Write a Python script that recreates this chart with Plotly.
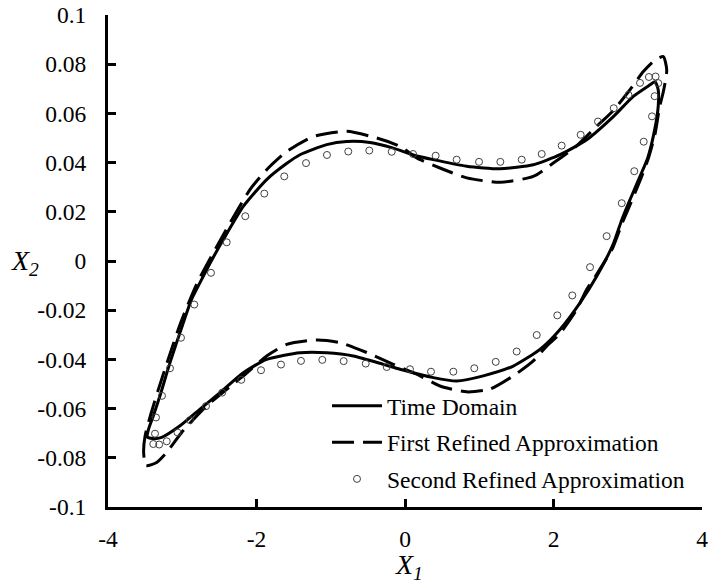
import plotly.graph_objects as go

# ---- data ----
time_x = [-3.47, -3.455, -3.39, -3.30, -3.165, -2.99, -2.88, -2.761, -2.60, -2.447, -2.178,
          -1.863, -1.60, -1.414, -1.055, -0.785, -0.471, -0.158, 0.10, 0.381, 0.831, 1.279,
          1.728, 2.088, 2.447, 2.806, 3.075, 3.30, 3.367, 3.41, 3.41, 3.36, 3.27, 3.165,
          3.03, 2.92, 2.806, 2.582, 2.357, 2.088, 1.818, 1.459, 1.055, 0.696, 0.381, -0.067,
          -0.292, -0.696, -1.055, -1.414, -1.863, -2.178, -2.492, -2.761, -3.03, -3.277,
          -3.40, -3.47]
time_y = [-0.0715, -0.0684, -0.063, -0.0548, -0.0413, -0.0255, -0.016, -0.0088, 0.0005,
          0.0087, 0.0222, 0.0331, 0.0395, 0.0432, 0.0473, 0.0486, 0.0482, 0.0459, 0.0432,
          0.0412, 0.0385, 0.0375, 0.0391, 0.0432, 0.0493, 0.0587, 0.0669, 0.0716, 0.0729,
          0.0696, 0.0628, 0.053, 0.042, 0.0344, 0.0249, 0.0168, 0.007, -0.0062, -0.017,
          -0.0278, -0.0359, -0.0427, -0.0467, -0.0488, -0.0474, -0.044, -0.042, -0.0386,
          -0.0373, -0.0373, -0.040, -0.0454, -0.0535, -0.0602, -0.067, -0.0717, -0.0722,
          -0.0715]

first_x = [-3.49, -3.52, -3.50, -3.43, -3.33, -3.19, -3.02, -2.80, -2.45, -2.088, -1.863,
           -1.593, -1.235, -0.785, -0.381, -0.067, 0.158, 0.471, 0.831, 1.279, 1.728, 1.997,
           2.30, 2.58, 2.80, 3.03, 3.21, 3.36, 3.479, 3.525, 3.48, 3.43, 3.37, 3.28, 3.17,
           3.04, 2.92, 2.80, 2.58, 2.447, 2.312, 2.078, 1.908, 1.728, 1.459, 1.145, 0.831,
           0.471, 0.158, -0.158, -0.516, -0.875, -1.19, -1.593, -1.863, -2.178, -2.671,
           -3.008, -3.209, -3.345, -3.49]
first_y = [-0.0832, -0.0778, -0.071, -0.063, -0.053, -0.040, -0.025, -0.009, 0.0105, 0.029,
           0.0371, 0.0445, 0.0506, 0.0527, 0.050, 0.0466, 0.0419, 0.0378, 0.0338, 0.032,
           0.0344, 0.0398, 0.0465, 0.0547, 0.061, 0.0696, 0.077, 0.0815, 0.0831, 0.0777,
           0.0689, 0.0628, 0.052, 0.042, 0.033, 0.0235, 0.015, 0.0055, -0.0055, -0.0116,
           -0.0197, -0.0298, -0.0346, -0.0406, -0.0467, -0.0521, -0.0532, -0.0508, -0.046,
           -0.042, -0.0372, -0.0332, -0.0321, -0.0339, -0.0386, -0.0467, -0.0589, -0.0697,
           -0.0778, -0.0819, -0.0832]

second_x = [-3.39, -3.367, -3.354, -3.273, -3.165, -3.017, -2.838, -2.613, -2.401, -2.151,
            -1.895, -1.626, -1.333, -1.051, -0.764, -0.481, -0.179, 0.108, 0.413, 0.696,
            0.997, 1.284, 1.572, 1.841, 2.110, 2.366, 2.599, 2.811, 3.010, 3.165, 3.285,
            3.375, 3.411, 3.362, 3.327, 3.215, 3.088, 2.919, 2.716, 2.492, 2.253, 2.051,
            1.774, 1.504, 1.222, 0.933, 0.651, 0.350, 0.067, -0.246, -0.529, -0.826, -1.114,
            -1.401, -1.670, -1.939, -2.205, -2.462, -2.680, -2.896, -3.064, -3.209, -3.311]
second_y = [-0.0744, -0.0702, -0.0636, -0.0548, -0.0436, -0.0312, -0.0177, -0.0048, 0.0076,
            0.0182, 0.0274, 0.0344, 0.0398, 0.0431, 0.0445, 0.0449, 0.0444, 0.0435, 0.0428,
            0.0412, 0.0403, 0.0403, 0.0412, 0.0435, 0.0469, 0.0513, 0.0567, 0.0621, 0.0675,
            0.0724, 0.0748, 0.0750, 0.0723, 0.0670, 0.0588, 0.0485, 0.0365, 0.0235, 0.0101,
            -0.0025, -0.0140, -0.0221, -0.0301, -0.0368, -0.0410, -0.0436, -0.0450, -0.0450,
            -0.0440, -0.0431, -0.0417, -0.0407, -0.0402, -0.0406, -0.0421, -0.0444, -0.0483,
            -0.0535, -0.0590, -0.0647, -0.0697, -0.0733, -0.0746]

x_ticks = [-4, -2, 0, 2, 4]
y_ticks = [-0.1, -0.08, -0.06, -0.04, -0.02, 0, 0.02, 0.04, 0.06, 0.08, 0.1]
y_tick_text = ["-0.1", "-0.08", "-0.06", "-0.04", "-0.02", "0", "0.02", "0.04", "0.06", "0.08", "0.1"]
x_tick_text = ["-4", "-2", "0", "2", "4"]

FONT = "Liberation Serif, Times New Roman, serif"
FS = 23.5

fig = go.Figure()
fig.add_trace(go.Scatter(x=time_x, y=time_y, mode="lines", name="Time Domain",
                         legendgroup="a",
                         line=dict(color="black", width=3, shape="spline", smoothing=0.6)))
fig.add_trace(go.Scatter(x=first_x, y=first_y, mode="lines", name="First Refined Approximation",
                         legendgroup="b",
                         line=dict(color="black", width=3, dash="22px,9px", shape="spline",
                                   smoothing=0.6)))
fig.add_trace(go.Scatter(x=second_x, y=second_y, mode="markers", name="Second Refined Approximation",
                         legendgroup="c",
                         marker=dict(symbol="circle-open", size=7, color="#404040",
                                     line=dict(width=1, color="#404040"))))

# the page body margin is removed below, so figure pixels == window pixels
W, H = 708, 585
PX0, PX1, PY0, PY1 = 108, 702, 15, 507        # plot area in pixels
L, R, T, B = PX0, W - PX1, PY0, H - PY1
pw, ph = PX1 - PX0, PY1 - PY0

def px_to_paper(px, py):
    return (px - PX0) / pw, (PY1 - py) / ph

lx, _ = px_to_paper(327, 0)
_, ly = px_to_paper(0, 384)

fig.update_layout(
    width=W, height=H,
    margin=dict(l=L, r=R, t=T, b=B),
    paper_bgcolor="white", plot_bgcolor="white",
    font=dict(family=FONT, size=FS, color="black"),
    showlegend=True,
    legend=dict(x=lx, y=ly, xanchor="left", yanchor="top",
                bgcolor="rgba(0,0,0,0)", itemwidth=50,
                traceorder="grouped", tracegroupgap=3,
                font=dict(family=FONT, size=FS, color="black")),
    xaxis=dict(range=[-4, 4], tickvals=x_ticks, ticktext=x_tick_text,
               showgrid=False, zeroline=False, showline=True, linecolor="black",
               linewidth=3, ticks="inside", ticklen=8, tickwidth=3, tickcolor="black",
               ticklabelstandoff=9, ticklabeloverflow="allow", mirror=False,
               automargin=False),
    yaxis=dict(range=[-0.1, 0.1], tickvals=y_ticks, ticktext=y_tick_text,
               showgrid=False, zeroline=False, showline=True, linecolor="black",
               linewidth=3, ticks="inside", ticklen=8, tickwidth=3, tickcolor="black",
               ticklabelstandoff=14, ticklabeloverflow="allow", mirror=False,
               automargin=False),
)

ax, ay = px_to_paper(25, 262)
bx, by = px_to_paper(409, 566)
fig.add_annotation(text="<i>X<sub>2</sub></i>", xref="paper", yref="paper", x=ax, y=ay,
                   showarrow=False, xanchor="center", yanchor="middle",
                   font=dict(family=FONT, size=28, color="black"))
fig.add_annotation(text="<i>X<sub>1</sub></i>", xref="paper", yref="paper", x=bx, y=by,
                   showarrow=False, xanchor="center", yanchor="middle",
                   font=dict(family=FONT, size=28, color="black"))

fig.write_html("out.html", config={"displayModeBar": False},
               post_script="document.body.style.margin='0px';"
                           "document.body.style.overflow='hidden';")
